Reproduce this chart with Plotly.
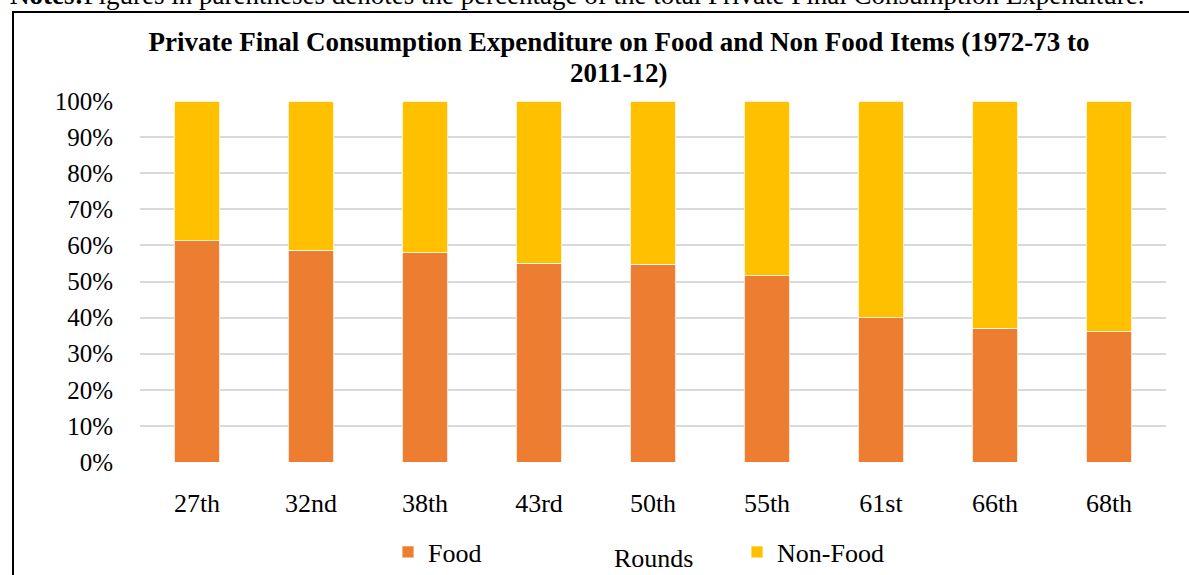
import plotly.graph_objects as go

# Survey rounds and share of private final consumption expenditure (%)
rounds = ["27th", "32nd", "38th", "43rd", "50th", "55th", "61st", "66th", "68th"]
food = [61.3, 58.6, 57.9, 55.1, 54.8, 51.6, 40.0, 37.0, 36.1]
non_food = [38.7, 41.4, 42.1, 44.9, 45.2, 48.4, 60.0, 63.0, 63.9]
y_ticks = [0, 10, 20, 30, 40, 50, 60, 70, 80, 90, 100]

W, H = 1189, 575
L, R, T, B = 140, 23, 101, 113
PW, PH = W - L - R, H - T - B


def px_x(px):
    return (px - L) / PW


def px_y(py):
    return (H - B - py) / PH


SERIF = "Liberation Serif, Times New Roman, Times, serif"

fig = go.Figure()
fig.add_trace(go.Bar(
    x=rounds, y=food, name="Food",
    marker=dict(color="#ED7D31", line=dict(color="white", width=0.8)),
))
fig.add_trace(go.Bar(
    x=rounds, y=non_food, name="Non-Food",
    marker=dict(color="#FFC000", line=dict(color="white", width=0.8)),
))

fig.update_layout(
    width=W, height=H,
    margin=dict(l=L, r=R, t=T, b=B, autoexpand=False),
    barmode="stack",
    bargap=0.605,
    plot_bgcolor="white",
    paper_bgcolor="white",
    font=dict(family=SERIF, color="black", size=26),
    title=dict(
        text="<b>Private Final Consumption Expenditure on Food and Non Food Items (1972-73 to</b>",
        font=dict(family=SERIF, size=27, color="black"),
        x=px_x(619), xref="paper", xanchor="center",
        y=1 - 42 / H, yref="container", yanchor="middle",
    ),
    showlegend=True,
    legend=dict(
        orientation="h",
        traceorder="normal",
        x=px_x(388), xanchor="left",
        y=1 - 552 / H, yref="container", yanchor="middle",
        font=dict(family=SERIF, size=26, color="black"),
        entrywidth=304, entrywidthmode="pixels",
        bgcolor="rgba(0,0,0,0)",
    ),
    xaxis=dict(
        tickfont=dict(family=SERIF, size=26),
        showgrid=False, zeroline=False, showline=False,
        ticks="", ticklabelstandoff=23,
        automargin=False,
    ),
    yaxis=dict(
        range=[0, 100],
        tickvals=y_ticks,
        ticktext=[f"{v}%" for v in y_ticks],
        tickfont=dict(family=SERIF, size=25),
        showgrid=True, gridcolor="#d9d9d9", gridwidth=1.5,
        zeroline=False, showline=False,
        ticks="", ticklabelstandoff=26,
        automargin=False,
    ),
)

# Second line of the chart title
fig.add_annotation(
    xref="paper", yref="paper",
    x=px_x(619), y=px_y(73), xanchor="center", yanchor="middle",
    text="<b>2011-12)</b>", showarrow=False,
    font=dict(family=SERIF, size=27, color="black"),
)

# Category axis title
fig.add_annotation(
    xref="paper", yref="paper",
    x=0.5, y=px_y(558), xanchor="center", yanchor="middle",
    text="Rounds", showarrow=False,
    font=dict(family=SERIF, size=26, color="black"),
)

# Border around the chart area
fig.add_shape(type="line", xref="paper", yref="paper",
              x0=px_x(12), x1=px_x(W + 20), y0=px_y(12), y1=px_y(12),
              line=dict(color="black", width=2))
fig.add_shape(type="line", xref="paper", yref="paper",
              x0=px_x(13), x1=px_x(13), y0=px_y(12), y1=px_y(H + 20),
              line=dict(color="black", width=2))

# Note line above the chart
fig.add_annotation(
    xref="paper", yref="paper",
    x=px_x(8), y=px_y(12), xanchor="left", yanchor="bottom",
    text="<b>Notes:</b>Figures in parentheses denotes the percentage of the total Private Final Consumption Expenditure.",
    showarrow=False,
    font=dict(family=SERIF, size=27, color="black"),
)

fig.write_html("out.html")
